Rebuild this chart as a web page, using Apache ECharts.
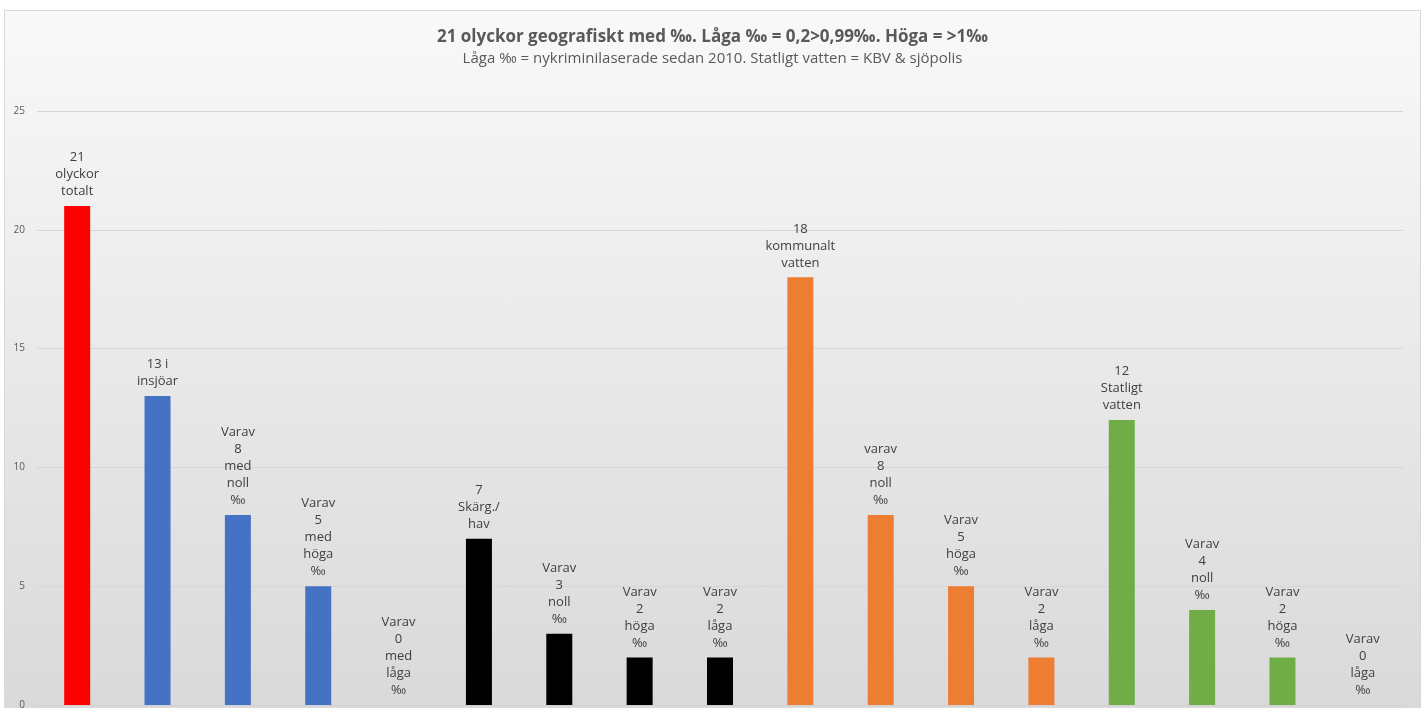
<!DOCTYPE html>
<html>
<head>
<meta charset="utf-8">
<script src="https://cdn.jsdelivr.net/npm/echarts@6/dist/echarts.min.js"></script>
<style>
  html, body { margin: 0; padding: 0; background: #ffffff; }
  #wrap {
    position: absolute; left: 4px; top: 10px; width: 1415px; height: 700px;
    border: 1px solid #d9d9d9;
    background: linear-gradient(to bottom, #f9f9f9 0%, #d9d9d9 100%);
  }
  #main { width: 1415px; height: 700px; }
</style>
</head>
<body>
<div id="wrap"><div id="main"></div></div>
<script>
// kategorier (ingen text visas på x-axeln)
var categories = ['Totalt', 'Insjöar', 'Insjö noll', 'Insjö höga', 'Insjö låga',
  'Skärg./hav', 'Hav noll', 'Hav höga', 'Hav låga',
  'Kommunalt', 'Kommunalt noll', 'Kommunalt höga', 'Kommunalt låga',
  'Statligt', 'Statligt noll', 'Statligt höga', 'Statligt låga'];
var values = [21, 13, 8, 5, 0, 7, 3, 2, 2, 18, 8, 5, 2, 12, 4, 2, 0];
var labels = [
  '21\nolyckor\ntotalt',
  '13 i\ninsjöar',
  'Varav\n8\nmed\nnoll\n‰',
  'Varav\n5\nmed\nhöga\n‰',
  'Varav\n0\nmed\nlåga\n‰',
  '7\nSkärg./\nhav',
  'Varav\n3\nnoll\n‰',
  'Varav\n2\nhöga\n‰',
  'Varav\n2\nlåga\n‰',
  '18\nkommunalt\nvatten',
  'varav\n8\nnoll\n‰',
  'Varav\n5\nhöga\n‰',
  'Varav\n2\nlåga\n‰',
  '12\nStatligt\nvatten',
  'Varav\n4\nnoll\n‰',
  'Varav\n2\nhöga\n‰',
  'Varav\n0\nlåga\n‰'
];
var barColors = ['#ff0000', '#4472c4', '#4472c4', '#4472c4', '#4472c4',
  '#000000', '#000000', '#000000', '#000000',
  '#ed7d31', '#ed7d31', '#ed7d31', '#ed7d31',
  '#70ad47', '#70ad47', '#70ad47', '#70ad47'];
var yTicks = [0, 5, 10, 15, 20, 25];

var fontName = 'Open Sans';

var chart = echarts.init(document.getElementById('main'));

var option = {
  animation: false,
  title: {
    text: '21 olyckor geografiskt med ‰. Låga ‰ = 0,2>0,99‰. Höga = >1‰',
    subtext: 'Låga ‰ = nykriminilaserade sedan 2010. Statligt vatten = KBV & sjöpolis',
    left: 'center',
    top: 13,
    itemGap: 5,
    textStyle: {
      color: '#595959',
      fontSize: 17,
      fontWeight: 'bold',
      fontFamily: fontName
    },
    subtextStyle: {
      color: '#595959',
      fontSize: 15,
      fontFamily: fontName
    }
  },
  grid: {
    left: 32,
    right: 17,
    top: 100,
    bottom: 6
  },
  xAxis: {
    type: 'category',
    data: categories,
    axisTick: { show: false },
    axisLabel: { show: false },
    axisLine: { lineStyle: { color: '#d0d0d0' } }
  },
  yAxis: {
    type: 'value',
    min: yTicks[0],
    max: yTicks[yTicks.length - 1],
    interval: 5,
    axisLine: { show: false },
    axisTick: { show: false },
    axisLabel: {
      color: '#595959',
      fontSize: 10,
      fontFamily: fontName,
      margin: 12
    },
    splitLine: { lineStyle: { color: '#d6d6d6' } }
  },
  series: [{
    type: 'bar',
    barWidth: 26,
    data: values.map(function (v, i) {
      return { value: v, itemStyle: { color: barColors[i] } };
    }),
    label: {
      show: true,
      position: 'top',
      distance: 6,
      color: '#404040',
      fontSize: 13,
      lineHeight: 17,
      fontFamily: fontName,
      formatter: function (p) {
        return labels[p.dataIndex];
      }
    }
  }]
};

chart.setOption(option);
</script>
</body>
</html>
